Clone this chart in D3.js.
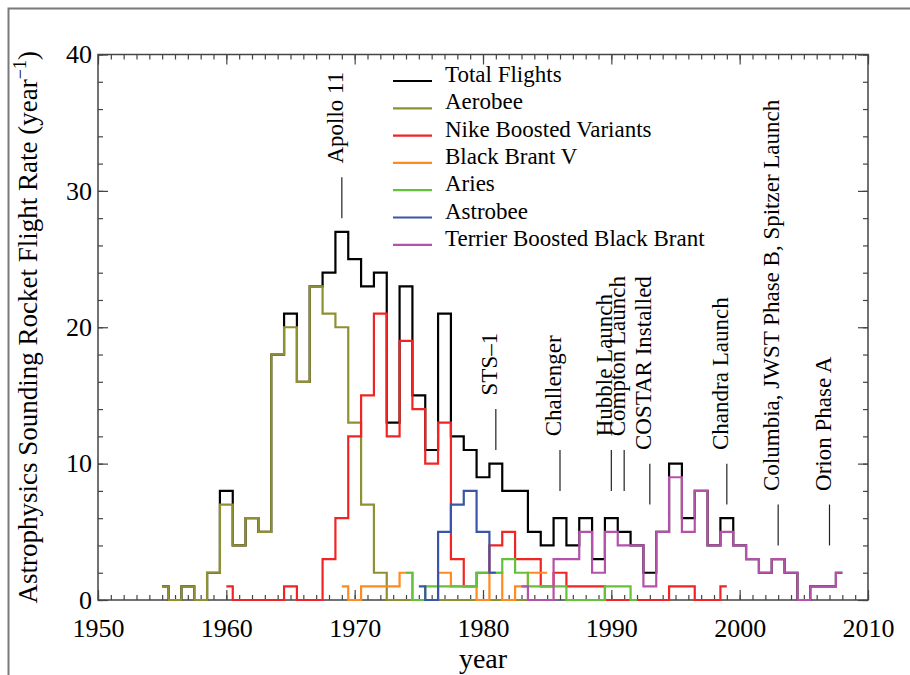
<!DOCTYPE html>
<html>
<head>
<meta charset="utf-8">
<script src="https://cdn.jsdelivr.net/npm/d3@7/dist/d3.min.js"></script>
<style>
  body { margin: 0; background: #fff; }
  text { font-family: "Liberation Serif", "Times New Roman", serif; fill: #000; }
</style>
</head>
<body>
<div id="graph"></div>
<script>
// flights per year, each series starts at its own first year
var totalStart = 1955;
var totalFlights = [1, 0, 1, 0, 2, 8, 4, 6, 5, 18, 21, 16, 23, 24, 27, 25, 23, 24, 13, 23,
  15, 11, 21, 12, 11, 9, 10, 8, 8, 5, 4, 6, 4, 6, 3, 6, 5, 4, 2, 5,
  10, 6, 8, 4, 6, 4, 3, 2, 3, 2, 0, 1, 1, 2];

var aerobeeStart = 1955;
var aerobee = [1, 0, 1, 0, 2, 7, 4, 6, 5, 18, 20, 16, 23, 21, 20, 13, 7, 2, 0, 0,
  0, 0, 0, 0, 0, 0, 0, 0, 0, 0, 0];

var nikeStart = 1960;
var nike = [1, 0, 0, 0, 0, 1, 0, 0, 3, 6, 12, 15, 21, 12, 19, 14, 10, 13, 3, 1,
  2, 4, 5, 3, 3, 1, 2, 1, 1, 1, 0, 0, 0, 0, 0, 1, 1, 0, 0, 1];

var blackBrantStart = 1969;
var blackBrant = [1, 0, 1, 1, 1, 2, 0, 0, 2, 1, 1, 0, 2, 0, 1, 2, 2];

var ariesStart = 1974;
var aries = [2, 0, 1, 1, 1, 1, 2, 2, 3, 2, 1, 1, 1, 0, 0, 0, 1, 1, 0];

var astrobeeStart = 1975;
var astrobee = [1, 0, 5, 7, 8, 5, 2];

var terrierStart = 1983;
var terrier = [1, 0, 0, 3, 3, 5, 2, 5, 4, 4, 1, 5, 9, 5, 8, 4, 5, 4, 3, 2,
  3, 2, 0, 1, 1, 2];

var seriesNames = ["Total Flights", "Aerobee", "Nike Boosted Variants", "Black Brant V",
  "Aries", "Astrobee", "Terrier Boosted Black Brant"];
var seriesColors = ["#000000", "#8f8f33", "#f02424", "#ff8a1e", "#66c13a", "#3a55a8", "#b452a9"];

// event markers
var eventYears = [1969, 1981, 1986, 1990, 1991, 1993, 1999, 2003, 2007];
var eventLabels = ["Apollo 11", "STS\u20131", "Challenger", "Hubble Launch", "Compton Launch",
  "COSTAR Installed", "Chandra Launch", "Columbia, JWST Phase B, Spitzer Launch", "Orion Phase A"];
var eventBase = [28, 11, 8, 8, 8, 7, 7, 4, 4];

var xTicks = [1950, 1960, 1970, 1980, 1990, 2000, 2010];
var yTicks = [0, 10, 20, 30, 40];

// plot box
var plotLeft = 98, plotRight = 868, plotTop = 54.5, plotBottom = 600;

var graphX = d3.scaleLinear().domain([1950, 2010]).range([plotLeft, plotRight]);
var graphY = d3.scaleLinear().domain([0, 40]).range([plotBottom, plotTop]);

function toPoints(start, values) {
  return values.map(function(v, i) { return {year: start + i, value: v}; });
}

var seriesData = [
  toPoints(totalStart, totalFlights),
  toPoints(aerobeeStart, aerobee),
  toPoints(nikeStart, nike),
  toPoints(blackBrantStart, blackBrant),
  toPoints(ariesStart, aries),
  toPoints(astrobeeStart, astrobee),
  toPoints(terrierStart, terrier)
];

var svg = d3.select("#graph")
  .append("svg")
  .attr("width", 910)
  .attr("height", 675);

svg.append("rect")
  .attr("width", 910).attr("height", 675)
  .attr("fill", "#fff");

// outer gray border
svg.append("rect")
  .attr("x", 8.5).attr("y", 8.5)
  .attr("width", 1000).attr("height", 1000)
  .attr("fill", "none")
  .attr("stroke", "#7a7a7a")
  .attr("stroke-width", 2);

// minor ticks on all four sides
var minorX = d3.range(1950, 2011, 1);
var minorY = d3.range(0, 41, 2);

function styleAxis(g) {
  g.select(".domain").remove();
  g.selectAll("line").attr("stroke", "#444").attr("stroke-width", 1.2);
}

svg.append("g").attr("transform", "translate(0," + plotBottom + ")")
  .call(d3.axisBottom(graphX).tickValues(minorX).tickSize(-5).tickFormat(""))
  .call(styleAxis);
svg.append("g").attr("transform", "translate(0," + plotTop + ")")
  .call(d3.axisTop(graphX).tickValues(minorX).tickSize(-5).tickFormat(""))
  .call(styleAxis);
svg.append("g").attr("transform", "translate(" + plotLeft + ",0)")
  .call(d3.axisLeft(graphY).tickValues(minorY).tickSize(-5).tickFormat(""))
  .call(styleAxis);
svg.append("g").attr("transform", "translate(" + plotRight + ",0)")
  .call(d3.axisRight(graphY).tickValues(minorY).tickSize(-5).tickFormat(""))
  .call(styleAxis);

// major ticks with labels
var xAxis = svg.append("g").attr("transform", "translate(0," + plotBottom + ")")
  .call(d3.axisBottom(graphX).tickValues(xTicks).tickSize(-10).tickPadding(19).tickFormat(d3.format("d")))
  .call(styleAxis);
xAxis.selectAll("text")
  .attr("font-size", 26)
  .attr("font-family", "Liberation Serif, serif")
  .attr("fill", "#000");

svg.append("g").attr("transform", "translate(0," + plotTop + ")")
  .call(d3.axisTop(graphX).tickValues(xTicks).tickSize(-10).tickFormat(""))
  .call(styleAxis);

var yAxis = svg.append("g").attr("transform", "translate(" + plotLeft + ",0)")
  .call(d3.axisLeft(graphY).tickValues(yTicks).tickSize(-10).tickPadding(6))
  .call(styleAxis);
yAxis.selectAll("text")
  .attr("font-size", 26)
  .attr("font-family", "Liberation Serif, serif")
  .attr("fill", "#000");

svg.append("g").attr("transform", "translate(" + plotRight + ",0)")
  .call(d3.axisRight(graphY).tickValues(yTicks).tickSize(-10).tickFormat(""))
  .call(styleAxis);

// frame
svg.append("rect")
  .attr("x", plotLeft).attr("y", plotTop)
  .attr("width", plotRight - plotLeft).attr("height", plotBottom - plotTop)
  .attr("fill", "none")
  .attr("stroke", "#444")
  .attr("stroke-width", 1.5);

// step lines
var stepLine = d3.line()
  .curve(d3.curveStep)
  .x(function(d) { return graphX(d.year); })
  .y(function(d) { return graphY(d.value); });

svg.append("g")
  .selectAll("path")
  .data(seriesData)
  .enter()
  .append("path")
  .attr("d", stepLine)
  .attr("fill", "none")
  .attr("stroke", function(d, i) { return seriesColors[i]; })
  .attr("stroke-width", 2.2)
  .attr("stroke-linejoin", "miter");

// event markers
var events = svg.append("g")
  .selectAll("g")
  .data(eventYears)
  .enter()
  .append("g");

events.append("line")
  .attr("x1", function(d) { return graphX(d); })
  .attr("x2", function(d) { return graphX(d); })
  .attr("y1", function(d, i) { return graphY(eventBase[i]); })
  .attr("y2", function(d, i) { return graphY(eventBase[i] + 3); })
  .attr("stroke", "#222")
  .attr("stroke-width", 1.2);

events.append("text")
  .attr("transform", function(d, i) {
    return "translate(" + (graphX(d) + 1) + "," + graphY(eventBase[i] + 4) + ") rotate(-90)";
  })
  .attr("font-size", 23)
  .text(function(d, i) { return eventLabels[i]; });

// legend
var legend = svg.append("g")
  .selectAll("g")
  .data(seriesNames)
  .enter()
  .append("g")
  .attr("transform", function(d, i) { return "translate(393," + (81 + i * 27.3) + ")"; });

legend.append("line")
  .attr("x1", 0).attr("x2", 39)
  .attr("stroke", function(d, i) { return seriesColors[i]; })
  .attr("stroke-width", 2.2);

legend.append("text")
  .attr("x", 52)
  .attr("y", 1)
  .attr("font-size", 23)
  .text(function(d) { return d; });

// axis titles
svg.append("text")
  .attr("x", (plotLeft + plotRight) / 2)
  .attr("y", 668)
  .attr("text-anchor", "middle")
  .attr("font-size", 28)
  .text("year");

var yTitle = svg.append("text")
  .attr("transform", "translate(37," + ((plotTop + plotBottom) / 2) + ") rotate(-90)")
  .attr("text-anchor", "middle")
  .attr("font-size", 27);
yTitle.append("tspan").text("Astrophysics Sounding Rocket Flight Rate (year");
yTitle.append("tspan").attr("font-size", 18).attr("dy", -11).text("\u22121");
yTitle.append("tspan").attr("dy", 11).text(")");
</script>
</body>
</html>
